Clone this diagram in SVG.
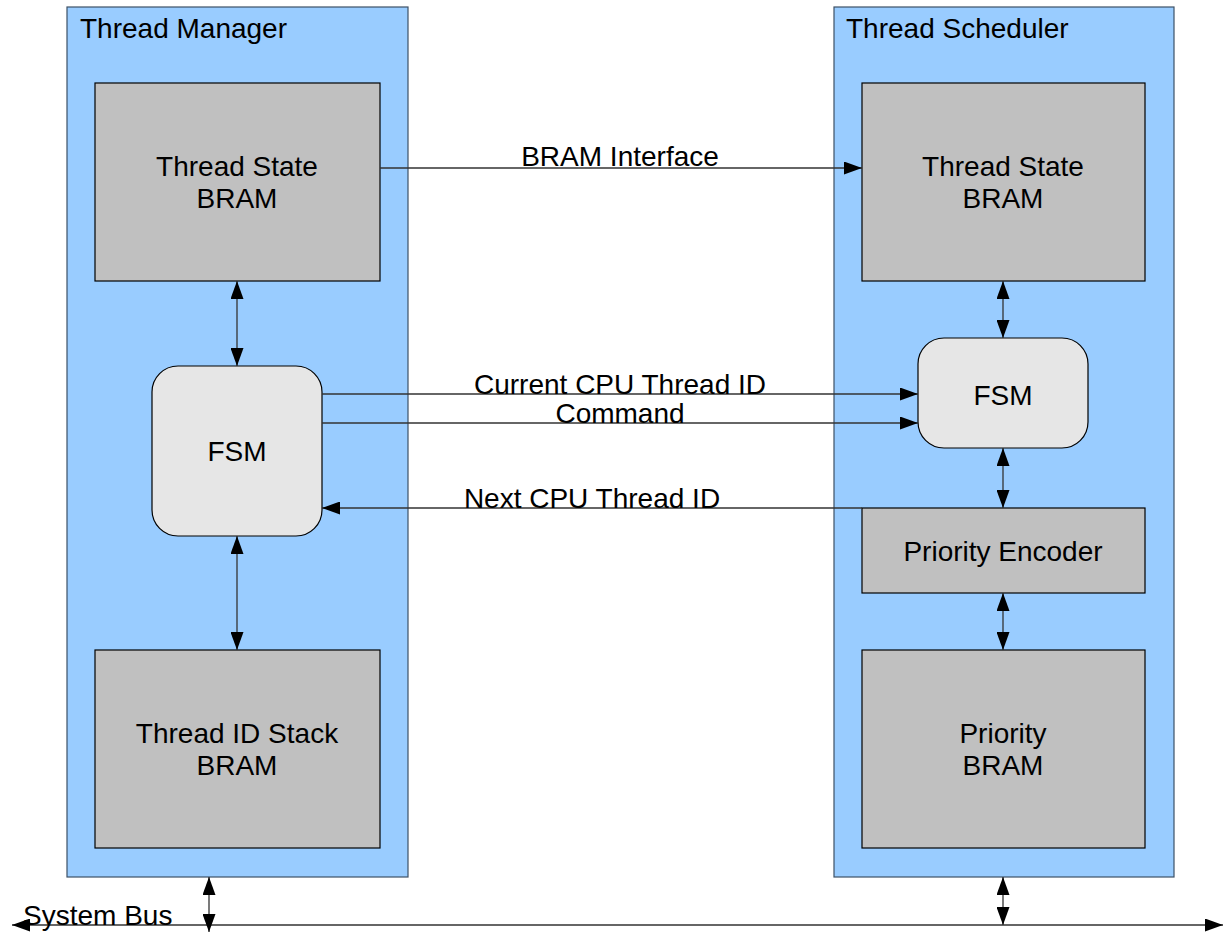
<svg xmlns="http://www.w3.org/2000/svg" width="1225" height="934" viewBox="0 0 1225 934">
<style>
.cont{fill:#99ccff;stroke:#3d5066;stroke-width:1.2}
.blk{fill:#c0c0c0;stroke:#000;stroke-width:1.2}
.fsm{fill:#e6e6e6;stroke:#000;stroke-width:1.2}
.t{font-family:"Liberation Sans",Arial,sans-serif;font-size:28px;fill:#000}
.c{text-anchor:middle}
.ln{stroke:#333;stroke-width:1.3;fill:none}
</style>
<defs>
<marker id="ae" markerUnits="userSpaceOnUse" markerWidth="18" markerHeight="13" refX="18" refY="6.5" orient="auto">
<path d="M0,0 L18,6.5 L0,13 Z" fill="#000"/>
</marker>
<marker id="as" markerUnits="userSpaceOnUse" markerWidth="18" markerHeight="13" refX="0" refY="6.5" orient="auto">
<path d="M18,0 L0,6.5 L18,13 Z" fill="#000"/>
</marker>
</defs>
<g id="thread-manager">
<rect class="cont" x="67" y="7" width="341" height="870"/>
<text class="t" x="80" y="38">Thread Manager</text>
</g>
<g id="thread-scheduler">
<rect class="cont" x="834" y="7" width="340" height="870"/>
<text class="t" x="846" y="38">Thread Scheduler</text>
</g>
<g id="tm-thread-state-bram">
<rect class="blk" x="95" y="83" width="285" height="198"/>
<text class="t c" x="237" y="176">Thread State</text>
<text class="t c" x="237" y="208">BRAM</text>
</g>
<g id="tm-fsm">
<rect class="fsm" x="152" y="366" width="170" height="170" rx="26"/>
<text class="t c" x="237" y="461">FSM</text>
</g>
<g id="tm-thread-id-stack">
<rect class="blk" x="95" y="650" width="285" height="198"/>
<text class="t c" x="237" y="743">Thread ID Stack</text>
<text class="t c" x="237" y="775">BRAM</text>
</g>
<g id="ts-thread-state-bram">
<rect class="blk" x="862" y="83" width="283" height="198"/>
<text class="t c" x="1003" y="176">Thread State</text>
<text class="t c" x="1003" y="208">BRAM</text>
</g>
<g id="ts-fsm">
<rect class="fsm" x="918" y="338" width="170" height="110" rx="26"/>
<text class="t c" x="1003" y="405">FSM</text>
</g>
<g id="ts-priority-encoder">
<rect class="blk" x="862" y="508" width="283" height="85"/>
<text class="t c" x="1003" y="561">Priority Encoder</text>
</g>
<g id="ts-priority-bram">
<rect class="blk" x="862" y="650" width="283" height="198"/>
<text class="t c" x="1003" y="743">Priority</text>
<text class="t c" x="1003" y="775">BRAM</text>
</g>
<g id="connectors">
<line class="ln" x1="380" y1="168" x2="862" y2="168" marker-end="url(#ae)"/>
<line class="ln" x1="322" y1="394" x2="918" y2="394" marker-end="url(#ae)"/>
<line class="ln" x1="322" y1="423" x2="918" y2="423" marker-end="url(#ae)"/>
<line class="ln" x1="862" y1="508" x2="322" y2="508" marker-end="url(#ae)"/>
<line class="ln" x1="237" y1="281" x2="237" y2="366" marker-start="url(#as)" marker-end="url(#ae)"/>
<line class="ln" x1="237" y1="536" x2="237" y2="650" marker-start="url(#as)" marker-end="url(#ae)"/>
<line class="ln" x1="1003" y1="281" x2="1003" y2="338" marker-start="url(#as)" marker-end="url(#ae)"/>
<line class="ln" x1="1003" y1="448" x2="1003" y2="508" marker-start="url(#as)" marker-end="url(#ae)"/>
<line class="ln" x1="1003" y1="593" x2="1003" y2="650" marker-start="url(#as)" marker-end="url(#ae)"/>
<line class="ln" x1="12" y1="925" x2="1223" y2="925" marker-start="url(#as)" marker-end="url(#ae)"/>
<line class="ln" x1="209" y1="877" x2="209" y2="932" marker-start="url(#as)" marker-end="url(#ae)"/>
<line class="ln" x1="1003" y1="877" x2="1003" y2="925" marker-start="url(#as)" marker-end="url(#ae)"/>
<text class="t c" x="620" y="166">BRAM Interface</text>
<text class="t c" x="620" y="394">Current CPU Thread ID</text>
<text class="t c" x="620" y="423">Command</text>
<text class="t c" x="592" y="508">Next CPU Thread ID</text>
<text class="t" x="23" y="925">System Bus</text>
</g>
</svg>
